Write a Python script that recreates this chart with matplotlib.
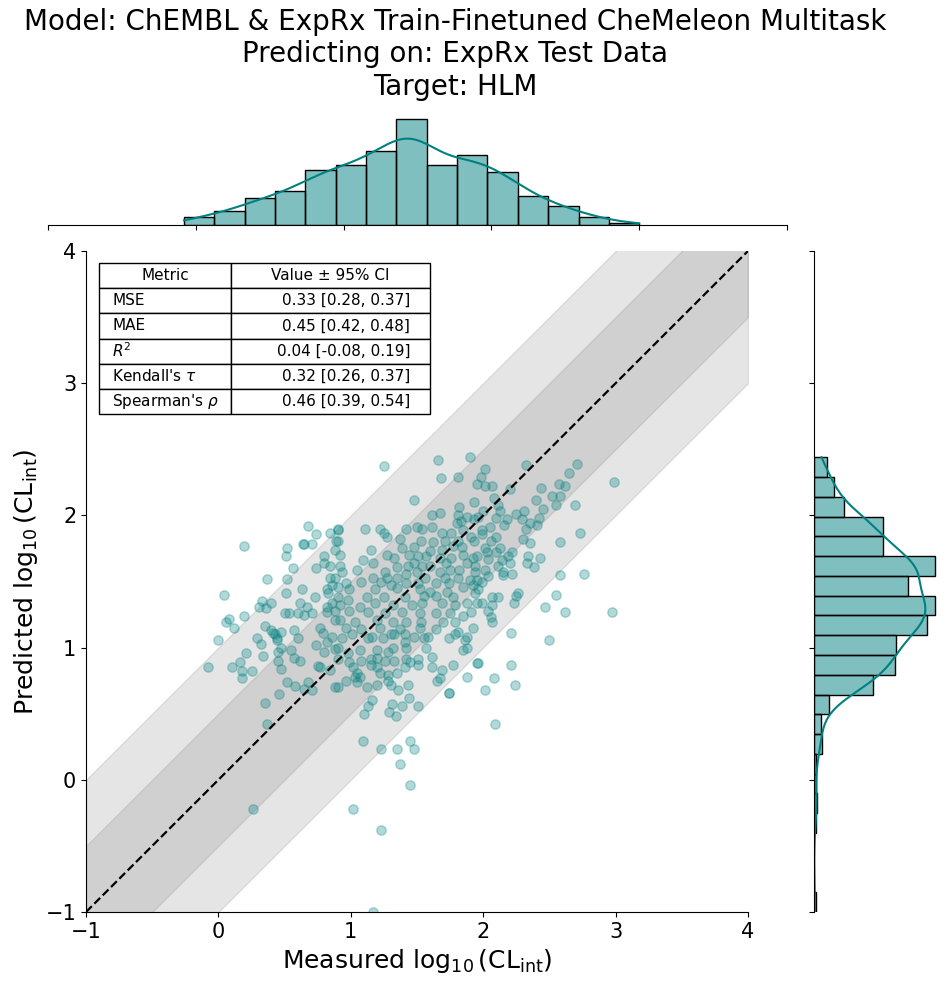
import numpy as np
import matplotlib
matplotlib.use("Agg")
from matplotlib import pyplot as plt

# measured / predicted log10(CLint)
measured = [
    0.68, 0.74, 0.84, 0.90, 0.19, 0.64, 0.65, 0.71, 0.52, 0.51,
    0.89, 0.88, 0.80, 0.80, 0.84, 0.74, 0.56, 0.37, 0.52, 0.84,
    0.86, 0.82, 0.83, 0.63, 0.51, 0.73, 0.04, 0.33, 0.40, 0.31,
    0.36, 0.62, 0.67, 0.86, 0.88, 0.82, 0.19, 0.08, 0.06, 0.12,
    0.50, 0.53, 0.60, 0.65, 0.71, 0.82, 0.35, 0.40, 0.41, 0.47,
    0.57, 0.77, 0.79, 0.88, 0.00, 0.29, 0.44, 0.60, 0.86,
    1.25, 1.66, 1.90, 1.68, 1.81, 1.95, 1.48, 1.93, 1.82, 1.61,
    1.67, 1.81, 1.88, 1.80, 1.83, 1.93, 0.90, 1.11, 1.22, 1.25,
    1.27, 1.42, 1.50, 1.54, 1.61, 1.69, 1.76, 1.85, 1.91, 0.90,
    1.37, 1.53, 1.62, 1.71, 1.81, 1.93, 1.15, 1.39, 1.48, 1.60,
    1.69, 1.77, 1.84, 0.92, 1.27, 1.33, 1.44, 1.51, 1.57, 1.67,
    1.76, 1.85, 1.92, 1.09, 1.17, 0.92, 1.35, 1.43, 1.48, 1.54,
    1.60, 1.72, 1.88, 1.94, 0.93, 1.05, 1.26, 1.42, 1.50, 1.67,
    1.75, 1.82, 1.94, 0.88, 1.17, 1.27, 1.35, 1.56, 1.71, 1.81,
    1.90, 0.96, 1.08, 1.23, 1.30, 1.42, 1.51, 1.64, 1.74, 1.92,
    0.90, 0.99, 1.18, 1.35, 1.52, 1.60, 1.73, 1.85, 1.94, 0.90,
    0.98, 1.12, 1.25, 1.41, 1.55, 1.64, 1.77, 1.88, 1.95, 0.92,
    1.07, 1.18, 1.32, 1.46, 1.54, 1.69, 1.79, 1.91, 0.99, 1.13,
    1.26, 1.39, 1.52, 1.64, 1.75, 1.85, 0.92, 1.03, 1.20, 1.32,
    1.42, 1.53, 1.70, 1.79, 0.96, 1.08, 1.22, 1.37, 1.52, 1.64,
    1.81, 1.92, 1.01, 1.16, 1.30, 1.41, 1.48, 1.58, 1.74, 1.88,
    2.32, 2.71, 2.65, 2.99, 2.01, 1.98, 2.01, 2.07, 2.20, 2.44,
    2.57, 2.62, 2.52, 2.58, 2.40, 2.69, 2.55, 2.45, 2.08, 2.11,
    2.13, 2.00, 1.96, 2.10, 2.18, 2.16, 2.25, 2.31, 2.29, 2.35,
    2.42, 2.41, 2.32, 2.05, 1.99, 1.99, 2.06, 2.10, 2.30, 2.35,
    2.58, 2.73, 2.01, 2.03, 2.13, 2.10, 2.22, 2.19, 2.14, 2.04,
    1.95, 2.34, 2.43, 2.33, 2.38, 2.20, 2.11, 2.01, 2.04, 2.15,
    2.15, 2.22, 2.58, 2.76, 1.95, 1.99, 1.96, 1.99, 2.07, 2.11,
    2.07, 2.23, 2.26, 2.25, 2.04, 2.06, 2.07, 2.55, 2.47, 2.62,
    2.97, 2.21, 2.50,
    -0.08, 0.10, 0.16, 0.21, 0.18, 0.18, 0.25, 0.32, 0.34, 0.43,
    0.44, 0.45, 0.47, 0.45, 0.47, 0.55, 0.57, 0.62, 0.74, 0.80,
    0.82, 0.88, 0.75, 0.77, 0.84, 0.88, 0.52, 0.58, 0.65, 0.68,
    0.71, 0.46, 0.35, 0.37, 0.26,
    0.93, 1.13, 1.24, 1.33, 1.41, 1.55, 1.57, 1.42, 1.32, 1.28,
    1.20, 1.07, 0.98, 0.90, 0.90, 0.99, 1.02, 1.08, 1.15, 1.15,
    1.20, 1.26, 1.33, 1.42, 1.45, 1.20, 1.05, 1.03, 1.07, 0.96,
    1.05, 1.22, 1.28, 1.28, 1.35, 1.41, 0.90, 1.12, 1.20, 1.30,
    1.36, 1.43, 1.79, 1.86, 1.88, 1.85, 1.95, 1.88, 1.77, 1.69,
    1.61, 1.61, 1.51, 1.51, 1.65, 1.67, 1.74, 1.74, 1.10, 1.13,
    1.16, 1.29, 1.34, 1.31, 1.39, 1.51, 1.44, 1.09, 1.23, 1.35,
    1.45, 1.48, 1.37, 1.45, 1.02, 1.23, 1.17,
    1.96, 2.21, 2.08, 2.01, 2.24, 2.09,
]
predicted = [
    1.92, 1.86, 1.87, 1.89, 1.77, 1.78, 1.78, 1.78, 1.75, 1.69,
    1.81, 1.74, 1.69, 1.64, 1.62, 1.60, 1.60, 1.52, 1.52, 1.53,
    1.47, 1.44, 1.41, 1.44, 1.41, 1.38, 1.40, 1.35, 1.34, 1.31,
    1.30, 1.34, 1.31, 1.34, 1.28, 1.31, 1.24, 1.22, 1.19, 1.15,
    1.26, 1.26, 1.26, 1.25, 1.26, 1.27, 1.16, 1.13, 1.11, 1.12,
    1.13, 1.15, 1.11, 1.21, 1.06, 1.07, 1.07, 1.07, 1.08,
    2.37, 2.42, 2.44, 2.28, 2.29, 2.24, 2.12, 2.10, 2.06, 2.00,
    2.02, 2.00, 1.99, 1.94, 1.96, 1.97, 1.90, 1.90, 1.90, 1.87,
    1.84, 1.90, 1.91, 1.90, 1.91, 1.87, 1.87, 1.89, 1.84, 1.81,
    1.82, 1.81, 1.80, 1.81, 1.81, 1.81, 1.74, 1.75, 1.76, 1.73,
    1.74, 1.77, 1.76, 1.70, 1.70, 1.68, 1.70, 1.69, 1.69, 1.68,
    1.68, 1.70, 1.68, 1.66, 1.64, 1.62, 1.61, 1.62, 1.64, 1.62,
    1.62, 1.64, 1.64, 1.62, 1.57, 1.59, 1.57, 1.56, 1.57, 1.57,
    1.59, 1.59, 1.57, 1.53, 1.53, 1.53, 1.53, 1.53, 1.53, 1.53,
    1.51, 1.49, 1.50, 1.50, 1.47, 1.49, 1.49, 1.49, 1.49, 1.47,
    1.46, 1.44, 1.44, 1.45, 1.44, 1.42, 1.42, 1.46, 1.41, 1.38,
    1.36, 1.38, 1.38, 1.38, 1.39, 1.39, 1.38, 1.34, 1.34, 1.32,
    1.31, 1.34, 1.32, 1.32, 1.34, 1.34, 1.32, 1.27, 1.28, 1.27,
    1.26, 1.27, 1.26, 1.26, 1.26, 1.24, 1.21, 1.19, 1.21, 1.19,
    1.19, 1.19, 1.19, 1.19, 1.15, 1.14, 1.15, 1.14, 1.15, 1.14,
    1.12, 1.15, 1.10, 1.08, 1.10, 1.10, 1.08, 1.08, 1.07, 1.08,
    2.38, 2.39, 2.32, 2.25, 2.35, 2.29, 2.22, 2.22, 2.20, 2.21,
    2.24, 2.22, 2.15, 2.15, 2.12, 2.08, 2.08, 2.05, 2.13, 2.08,
    2.03, 2.03, 1.99, 1.98, 1.97, 1.93, 2.01, 2.03, 1.97, 1.94,
    1.98, 1.93, 1.90, 1.91, 1.89, 1.86, 1.81, 1.84, 1.82, 1.79,
    1.80, 1.87, 1.75, 1.72, 1.75, 1.72, 1.72, 1.69, 1.66, 1.67,
    1.69, 1.69, 1.68, 1.64, 1.61, 1.64, 1.62, 1.59, 1.54, 1.57,
    1.55, 1.56, 1.55, 1.56, 1.51, 1.50, 1.44, 1.34, 1.38, 1.38,
    1.32, 1.34, 1.41, 1.39, 1.28, 1.23, 1.19, 1.40, 1.31, 1.27,
    1.27, 1.11, 1.06,
    0.85, 0.85, 0.89, 0.96, 0.82, 0.77, 0.82, 1.03, 0.94, 1.10,
    1.06, 0.97, 1.00, 0.90, 0.84, 0.98, 0.92, 0.90, 1.02, 0.97,
    1.04, 0.99, 0.86, 0.85, 0.83, 0.70, 0.74, 0.71, 0.69, 0.74,
    0.68, 0.65, 0.58, 0.42, -0.22,
    1.07, 1.07, 1.07, 1.10, 1.04, 1.07, 1.00, 1.00, 1.00, 0.97,
    0.98, 0.98, 0.96, 1.00, 0.91, 0.89, 0.85, 0.90, 0.91, 0.87,
    0.92, 0.90, 0.90, 0.91, 0.89, 0.85, 0.81, 0.78, 0.78, 0.75,
    0.74, 0.81, 0.79, 0.75, 0.81, 0.85, 0.70, 0.70, 0.72, 0.72,
    0.68, 0.72, 1.10, 1.06, 1.00, 0.98, 0.88, 0.78, 0.87, 0.83,
    0.85, 0.93, 0.91, 0.87, 0.75, 0.77, 0.66, 0.66, 0.50, 0.56,
    0.60, 0.51, 0.48, 0.57, 0.56, 0.56, 0.62, 0.29, 0.23, 0.23,
    0.29, 0.23, 0.12, -0.04, -0.22, -0.38, -1.00,
    0.88, 0.87, 0.77, 0.68, 0.72, 0.42,
]

# marginal histogram counts
x_bin_range = (-0.08, 3.0)
x_counts = [7, 12, 23, 29, 47, 52, 64, 91, 52, 60, 46, 25, 16, 7, 2]
y_bin_range = (-1.0, 2.44)
y_counts = [1, 0, 0, 0, 1, 2, 1, 1, 5, 4, 9, 35, 48, 49, 67, 72, 56, 72,
            41, 41, 18, 12, 8]  # bottom -> top

metric_names = ["MSE", "MAE", "$R^2$", "Kendall's $\\tau$", "Spearman's $\\rho$"]
metric_values = ["0.33 [0.28, 0.37]", "0.45 [0.42, 0.48]", "0.04 [-0.08, 0.19]",
                 "0.32 [0.26, 0.37]", "0.46 [0.39, 0.54]"]

color = "teal"
lims = (-1, 4)

W, H = 950, 988
fig = plt.figure(figsize=(W / 100, H / 100), dpi=100)


def px_axes(x0, y0, x1, y1):
    return fig.add_axes([x0 / W, 1 - y1 / H, (x1 - x0) / W, (y1 - y0) / H])


ax = px_axes(86, 251, 748, 912)
ax_top = px_axes(48, 114, 787, 225)
ax_right = px_axes(814, 251, 941, 912)

# main scatter
line = np.linspace(lims[0], lims[1], 100)
ax.fill_between(line, line - 1, line + 1, color="gray", alpha=0.2)
ax.fill_between(line, line - 0.5, line + 0.5, color="gray", alpha=0.2)
ax.scatter(measured, predicted, color=color, alpha=0.3, s=45)
ax.plot(lims, lims, "k--", lw=1.6)
ax.set_xlim(lims)
ax.set_ylim(lims)
ax.set_xticks(range(-1, 5))
ax.set_yticks(range(-1, 5))
ax.tick_params(labelsize=15)
ax.set_xlabel(r"Measured $\log_{10}(\mathrm{CL}_{\mathrm{int}})$", fontsize=18)
ax.set_ylabel(r"Predicted $\log_{10}(\mathrm{CL}_{\mathrm{int}})$", fontsize=18)
for s in ["top", "right"]:
    ax.spines[s].set_visible(False)

# metrics table
cells = [[n, v] for n, v in zip(metric_names, metric_values)]
tab = ax.table(cellText=cells, colLabels=["Metric", "Value ± 95% CI"],
               bbox=[0.0196, 0.7534, 0.5, 0.2284], colWidths=[0.4, 0.6])
tab.auto_set_font_size(False)
for (r, c), cell in tab.get_celld().items():
    cell.get_text().set_fontsize(11)
    if r == 0:
        cell.get_text().set_ha("center")
    elif c == 0:
        cell.get_text().set_ha("left")
    else:
        cell.get_text().set_ha("right")


def kde_curve(edges, counts):
    centers = (edges[:-1] + edges[1:]) / 2
    w = np.asarray(counts, float)
    n = w.sum()
    mu = np.sum(w * centers) / n
    sd = np.sqrt(np.sum(w * (centers - mu) ** 2) / n)
    bw = sd * n ** (-1 / 5)
    grid = np.linspace(edges[0], edges[-1], 200)
    dens = (w[None, :] * np.exp(-0.5 * ((grid[:, None] - centers[None, :]) / bw) ** 2)).sum(1)
    dens /= n * bw * np.sqrt(2 * np.pi)
    return grid, dens * n * (edges[1] - edges[0])


# top marginal
x_edges = np.linspace(x_bin_range[0], x_bin_range[1], len(x_counts) + 1)
x_centers = (x_edges[:-1] + x_edges[1:]) / 2
ax_top.hist(x_centers, bins=x_edges, weights=x_counts, color=color, alpha=0.5,
            edgecolor="none")
ax_top.hist(x_centers, bins=x_edges, weights=x_counts, facecolor="none",
            edgecolor="black", lw=1)
gx, kx = kde_curve(x_edges, x_counts)
ax_top.plot(gx, kx, color=color, lw=1.5)
ax_top.set_xlim(lims)
ax_top.set_xticks(range(-1, 5))
ax_top.tick_params(labelbottom=False, left=False, labelleft=False)
for s in ["top", "right", "left"]:
    ax_top.spines[s].set_visible(False)

# right marginal
y_edges = np.linspace(y_bin_range[0], y_bin_range[1], len(y_counts) + 1)
y_centers = (y_edges[:-1] + y_edges[1:]) / 2
ax_right.hist(y_centers, bins=y_edges, weights=y_counts, color=color, alpha=0.5,
              orientation="horizontal", edgecolor="none")
ax_right.hist(y_centers, bins=y_edges, weights=y_counts, facecolor="none",
              edgecolor="black", lw=1, orientation="horizontal")
gy, ky = kde_curve(y_edges, y_counts)
ax_right.plot(ky, gy, color=color, lw=1.5)
ax_right.set_ylim(lims)
ax_right.set_yticks(range(-1, 5))
ax_right.tick_params(labelleft=False, bottom=False, labelbottom=False)
for s in ["top", "right", "bottom"]:
    ax_right.spines[s].set_visible(False)

fig.text(455 / W, 1 - 8 / H,
         "Model: ChEMBL & ExpRx Train-Finetuned CheMeleon Multitask\n"
         "Predicting on: ExpRx Test Data\nTarget: HLM",
         ha="center", va="top", fontsize=20)

fig.savefig("out.png", dpi=100)
